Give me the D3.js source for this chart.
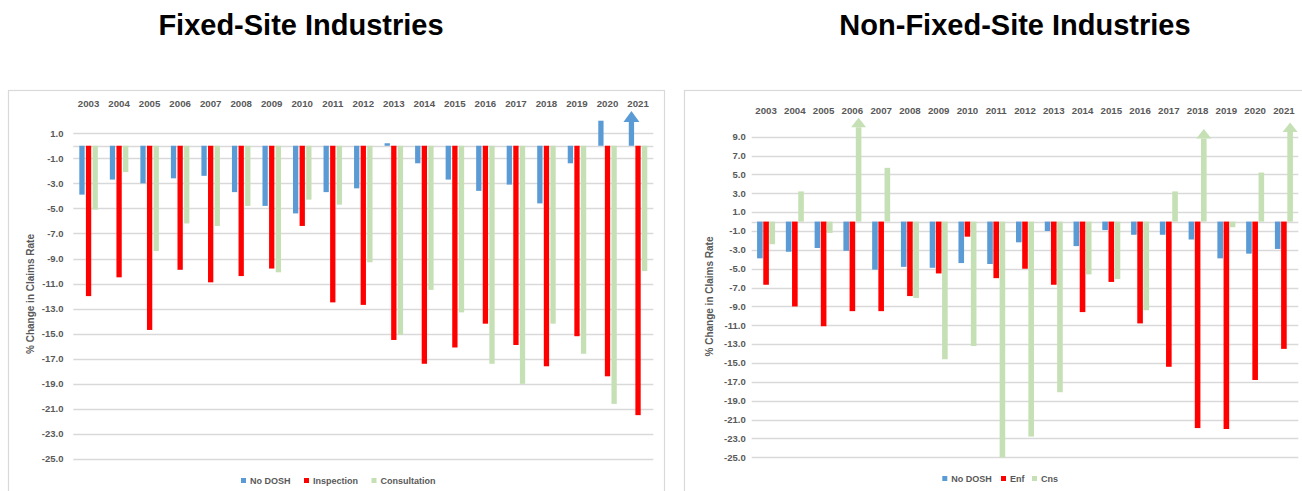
<!DOCTYPE html>
<html>
<head>
<meta charset="utf-8">
<script src="https://cdn.jsdelivr.net/npm/d3@7"></script>
<style>
  body { margin: 0; background: #fff; }
  svg { display: block; font-family: 'Liberation Sans', Arial, sans-serif; }
</style>
</head>
<body>
<svg width="1302" height="491" viewBox="0 0 1302 491"></svg>
<script>
// input data
const years = ['2003', '2004', '2005', '2006', '2007', '2008', '2009', '2010', '2011', '2012',
  '2013', '2014', '2015', '2016', '2017', '2018', '2019', '2020', '2021'];

// fixed-site industries, % change in claims rate
const fixedNoDosh = [-3.9, -2.7, -3.0, -2.6, -2.4, -3.7, -4.8, -5.4, -3.7, -3.4,
  0.2, -1.4, -2.7, -3.6, -3.1, -4.6, -1.4, 2.0, 1.9];
const fixedInspection = [-12.0, -10.5, -14.7, -9.9, -10.9, -10.4, -9.8, -6.4, -12.5, -12.7,
  -15.5, -17.4, -16.1, -14.2, -15.9, -17.6, -15.2, -18.4, -21.5];
const fixedConsultation = [-5.1, -2.1, -8.4, -6.2, -6.4, -4.8, -10.1, -4.3, -4.7, -9.3,
  -15.1, -11.5, -13.3, -17.4, -19.0, -14.2, -16.6, -20.6, -10.0];

// non-fixed-site industries
const nonFixedNoDosh = [-3.9, -3.2, -2.8, -3.1, -5.1, -4.8, -4.9, -4.4, -4.5, -2.2,
  -1.0, -2.6, -0.9, -1.4, -1.4, -1.9, -3.9, -3.4, -2.9];
const nonFixedEnf = [-6.7, -9.0, -11.1, -9.5, -9.5, -7.9, -5.5, -1.6, -6.0, -5.0,
  -6.7, -9.6, -6.4, -10.8, -15.4, -21.9, -22.0, -16.8, -13.5];
const nonFixedCns = [-2.4, 3.2, -1.2, 10.0, 5.7, -8.1, -14.6, -13.2, -25.0, -22.8,
  -18.1, -5.6, -6.1, -9.4, 3.2, 8.8, -0.6, 5.2, 9.5];

// bars flagged with an upward arrow (value runs off the chart)
const fixedArrows = [['No DOSH', '2021']];
const nonFixedArrows = [['Cns', '2006'], ['Cns', '2018'], ['Cns', '2021']];

// tick labels
const fixedTicks = [1, -1, -3, -5, -7, -9, -11, -13, -15, -17, -19, -21, -23, -25];
const nonFixedTicks = [9, 7, 5, 3, 1, -1, -3, -5, -7, -9, -11, -13, -15, -17, -19, -21, -23, -25];

const colors = ['#5B9BD5', '#FF0000', '#C5E0B4'];
const textColor = '#595959';
const gridColor = '#D9D9D9';

const svg = d3.select('svg');

// one panel per industry group
function drawPanel(opts) {
  const g = svg.append('g');

  // title above the chart frame
  g.append('text')
    .attr('x', opts.titleX)
    .attr('y', 35)
    .attr('text-anchor', 'middle')
    .attr('font-size', 29)
    .attr('font-weight', 'bold')
    .attr('fill', '#000')
    .text(opts.title);

  // chart frame
  g.append('rect')
    .attr('x', opts.frame[0])
    .attr('y', 90.5)
    .attr('width', opts.frame[1])
    .attr('height', 420)
    .attr('fill', 'none')
    .attr('stroke', gridColor)
    .attr('stroke-width', 1.2);

  const x = d3.scaleBand()
    .domain(years)
    .range(opts.xRange)
    .padding(0);

  const y = d3.scaleLinear()
    .domain(opts.yDomain)
    .range(opts.yRange)
    .clamp(true);

  // inner band for the three series within a year
  const pad = 1 - opts.barWidth / opts.barStep;
  const x1 = d3.scaleBand()
    .domain(opts.series.map(s => s.name))
    .range([-1.5 * opts.barStep, 1.5 * opts.barStep])
    .paddingInner(pad)
    .paddingOuter(pad / 2);

  // gridlines with the value labels
  const grid = g.append('g');
  grid.selectAll('line')
    .data(opts.ticks.concat([0]))
    .enter()
    .append('line')
    .attr('x1', opts.xRange[0])
    .attr('x2', opts.xRange[1])
    .attr('y1', d => Math.round(y(d)) + 0.5)
    .attr('y2', d => Math.round(y(d)) + 0.5)
    .attr('stroke', gridColor)
    .attr('stroke-width', 1.3);

  grid.selectAll('text')
    .data(opts.ticks)
    .enter()
    .append('text')
    .attr('x', opts.tickX)
    .attr('y', d => y(d))
    .attr('dy', '0.35em')
    .attr('text-anchor', 'end')
    .attr('font-size', 9.5)
    .attr('font-weight', 'bold')
    .attr('fill', textColor)
    .text(d => d.toFixed(1));

  // year labels along the top
  g.append('g')
    .selectAll('text')
    .data(years)
    .enter()
    .append('text')
    .attr('x', d => x(d) + x.bandwidth() / 2)
    .attr('y', opts.yearY)
    .attr('dy', '0.35em')
    .attr('text-anchor', 'middle')
    .attr('font-size', 9.7)
    .attr('font-weight', 'bold')
    .attr('fill', textColor)
    .text(d => d);

  // bars
  const bars = [];
  opts.series.forEach((s, i) => {
    s.values.forEach((v, j) => {
      bars.push({ name: s.name, year: years[j], value: v, color: colors[i] });
    });
  });

  const barX = d => x(d.year) + x.bandwidth() / 2 + x1(d.name);

  g.append('g')
    .selectAll('rect')
    .data(bars)
    .enter()
    .append('rect')
    .attr('x', barX)
    .attr('width', x1.bandwidth())
    .attr('y', d => Math.min(y(0), y(d.value)))
    .attr('height', d => Math.abs(y(0) - y(d.value)))
    .attr('fill', d => d.color);

  // arrowheads on top of the flagged bars
  const arrows = bars.filter(d => opts.arrows.some(a => a[0] === d.name && a[1] === d.year));
  g.append('g')
    .selectAll('path')
    .data(arrows)
    .enter()
    .append('path')
    .attr('d', d => {
      const cx = barX(d) + x1.bandwidth() / 2;
      const top = y(d.value);
      const hw = opts.arrowHalf;
      return `M ${cx - hw} ${top} L ${cx} ${top - opts.arrowHeight} L ${cx + hw} ${top} Z`;
    })
    .attr('fill', d => d.color);

  // y axis title
  g.append('text')
    .attr('transform', `translate(${opts.yTitleX} ${opts.yTitleY}) rotate(-90)`)
    .attr('text-anchor', 'middle')
    .attr('dy', '0.35em')
    .attr('font-size', 10)
    .attr('font-weight', 'bold')
    .attr('fill', textColor)
    .text('% Change in Claims Rate');

  // legend
  const legend = g.append('g')
    .selectAll('g')
    .data(opts.series)
    .enter()
    .append('g')
    .attr('transform', (d, i) => `translate(${opts.legendX[i]} ${opts.legendY})`);

  legend.append('rect')
    .attr('x', 0)
    .attr('y', -2.5)
    .attr('width', 5)
    .attr('height', 5)
    .attr('fill', (d, i) => colors[i]);

  legend.append('text')
    .attr('x', 9)
    .attr('y', 0)
    .attr('dy', '0.35em')
    .attr('font-size', 9)
    .attr('font-weight', 'bold')
    .attr('fill', textColor)
    .text(d => d.name);
}

drawPanel({
  title: 'Fixed-Site Industries',
  titleX: 301,
  frame: [8.5, 656],
  xRange: [73.3, 653.3],
  yDomain: [-25, 2],
  yRange: [459, 120.7],
  ticks: fixedTicks,
  tickX: 63.5,
  yearY: 103.3,
  barWidth: 5.3,
  barStep: 6.6,
  arrowHalf: 8,
  arrowHeight: 11,
  series: [
    { name: 'No DOSH', values: fixedNoDosh },
    { name: 'Inspection', values: fixedInspection },
    { name: 'Consultation', values: fixedConsultation },
  ],
  arrows: fixedArrows,
  yTitleX: 30,
  yTitleY: 294,
  legendX: [241, 304, 371.5],
  legendY: 480.5,
});

drawPanel({
  title: 'Non-Fixed-Site Industries',
  titleX: 1015,
  frame: [684.5, 640],
  xRange: [751.7, 1298.3],
  yDomain: [-25, 10],
  yRange: [457.3, 127.3],
  ticks: nonFixedTicks,
  tickX: 745.7,
  yearY: 110.7,
  barWidth: 5.6,
  barStep: 6.2,
  arrowHalf: 7.5,
  arrowHeight: 9.5,
  series: [
    { name: 'No DOSH', values: nonFixedNoDosh },
    { name: 'Enf', values: nonFixedEnf },
    { name: 'Cns', values: nonFixedCns },
  ],
  arrows: nonFixedArrows,
  yTitleX: 709.3,
  yTitleY: 296.5,
  legendX: [942.3, 1001, 1032],
  legendY: 478.5,
});
</script>
</body>
</html>
